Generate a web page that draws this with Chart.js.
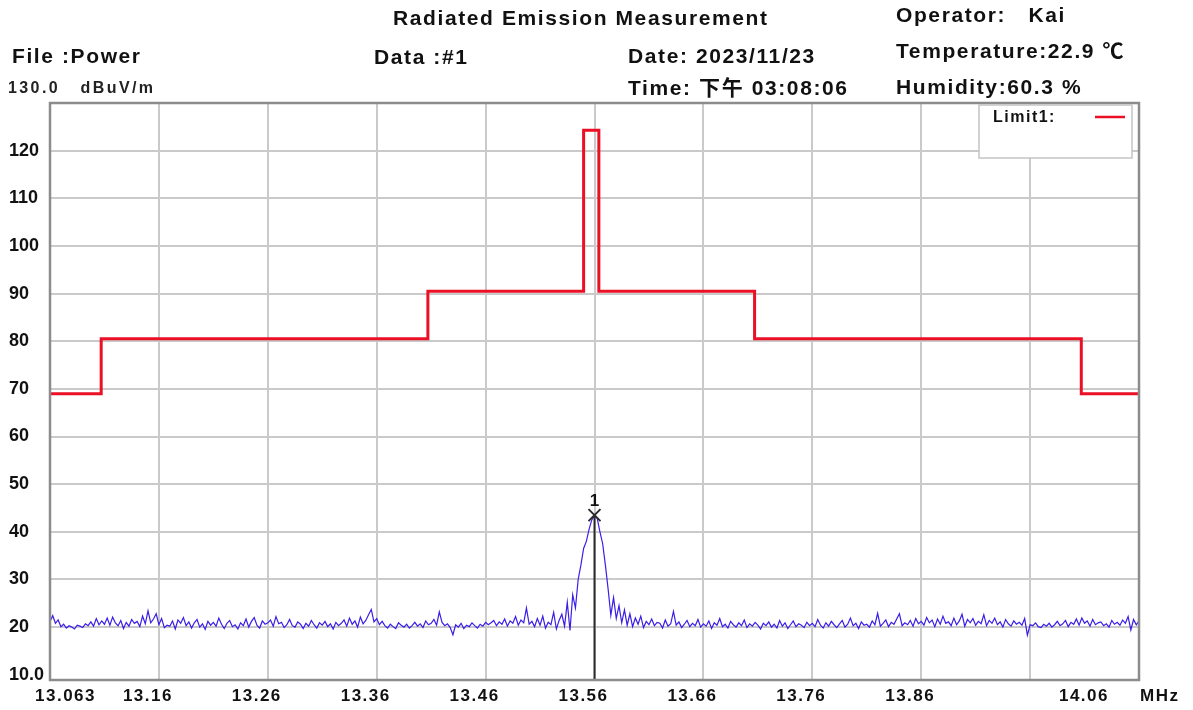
<!DOCTYPE html>
<html>
<head>
<meta charset="utf-8">
<script src="https://cdn.jsdelivr.net/npm/chart.js@4.4.1/dist/chart.umd.min.js"></script>
<style>
  body { margin: 0; background: #fff; font-family: "Liberation Sans", Arial, "Noto Sans CJK SC", sans-serif; }
  #wrap { position: relative; width: 1193px; height: 710px; }
  canvas { position: absolute; left: 0; top: 0; }
  .t { position: absolute; white-space: pre; font-weight: bold; font-size: 21px; line-height: 21px; letter-spacing: 1.6px; color: #111; }
  .s { font-size: 16px; line-height: 16px; letter-spacing: 2.4px; color: #222; }
</style>
</head>
<body>
<div id="wrap">
  <canvas id="spectrum" width="1193" height="710"></canvas>
  <div class="t" style="left:393px;top:7px">Radiated Emission Measurement</div>
  <div class="t" style="left:896px;top:4px">Operator:   Kai</div>
  <div class="t" style="left:12px;top:45px">File :Power</div>
  <div class="t" style="left:374px;top:46px">Data :#1</div>
  <div class="t" style="left:628px;top:45px">Date: 2023/11/23</div>
  <div class="t" style="left:896px;top:40px">Temperature:22.9 ℃</div>
  <div class="t s" style="left:8px;top:80px">130.0   dBuV/m</div>
  <div class="t" style="left:628px;top:77px">Time: 下午 03:08:06</div>
  <div class="t" style="left:896px;top:76px">Humidity:60.3 %</div>
</div>
<script>
// sweep settings (MHz)
const sweepStart = 13.063;
const sweepStop = 14.063;

// grid ticks and their printed labels
const xTicks = [13.063, 13.163, 13.263, 13.363, 13.463, 13.563, 13.663, 13.763, 13.863, 13.963, 14.063];
const xTickLabels = ["13.063", "13.16", "13.26", "13.36", "13.46", "13.56", "13.66", "13.76", "13.86", "", "14.06"];
const yTicks = [10, 20, 30, 40, 50, 60, 70, 80, 90, 100, 110, 120];
const yTickLabels = ["10.0", "20", "30", "40", "50", "60", "70", "80", "90", "100", "110", "120"];

// Limit1 corners
const limitFreq = [13.063, 13.11, 13.11, 13.41, 13.41, 13.553, 13.553, 13.567, 13.567, 13.71, 13.71, 14.01, 14.01, 14.063];
const limitLevel = [69.0, 69.0, 80.5, 80.5, 90.5, 90.5, 124.3, 124.3, 90.5, 90.5, 80.5, 80.5, 69.0, 69.0];

const trace = [
  21.2, 22.4, 20.8, 21.5, 20.1, 20.6, 19.8, 20.3, 20.0, 19.6, 20.4, 20.2, 19.9, 20.7, 20.3, 21.1, 20.2, 21.8, 20.5, 21.3,
  20.6, 21.9, 20.4, 22.1, 20.9, 20.3, 21.4, 19.7, 21.0, 20.2, 21.6, 20.8, 21.2, 20.1, 22.3, 20.7, 23.4, 20.9, 21.7, 22.8,
  20.5, 21.8, 19.9, 20.4, 20.2, 21.3, 19.6, 21.5, 20.8, 22.0, 20.3, 21.1, 19.8, 20.9, 21.6, 20.0, 20.7, 19.5, 21.2, 20.4,
  21.0, 20.2, 21.9, 20.6, 19.7, 20.8, 21.4, 20.1, 20.5, 19.6, 20.9, 20.3, 21.7, 20.0, 21.2, 22.0, 20.4, 19.8, 21.3, 20.6,
  20.9, 21.5, 20.2, 22.2, 20.7, 21.0, 19.9, 20.5, 21.6, 20.3, 20.0, 21.1, 20.6, 19.7, 20.8, 20.2, 21.4, 20.5, 19.8, 20.9,
  20.4, 21.2, 20.1, 20.7, 19.6, 21.0, 20.3, 20.8, 21.5, 20.2, 21.9, 20.6, 21.3, 20.0, 22.1, 20.7, 21.4, 22.6, 23.7, 21.1,
  21.8, 20.5, 21.2, 20.3, 19.8, 20.6, 20.1, 19.7, 20.9, 20.4, 20.0, 20.6, 19.8, 20.3, 21.0, 20.2, 20.7, 19.9, 21.3, 20.5,
  20.8, 21.6, 20.4, 23.2, 21.0, 20.3, 20.7, 19.9, 18.4, 20.5, 20.0, 20.8, 19.7, 20.4, 20.1, 20.9, 20.3, 19.8, 20.6, 20.2,
  21.0, 20.5, 20.9, 21.4, 20.3, 21.1, 20.6, 21.7, 20.2, 21.3, 20.8, 22.2, 20.4, 21.5, 20.9, 24.0, 20.6, 21.2, 20.1, 21.8,
  20.4, 22.3, 19.8, 21.0, 20.5, 23.1, 19.6, 21.4, 22.7, 20.2, 25.2, 19.3, 26.8, 24.0, 30.0, 33.0, 36.5, 38.0, 40.5, 42.5,
  43.5,
  42.8, 40.0, 37.5, 33.0, 28.0, 22.5, 26.2, 21.8, 24.5, 20.9, 23.6, 20.4, 22.8, 20.1, 21.9, 20.6, 22.3, 19.9, 21.2, 20.5,
  21.7, 20.3, 21.0, 20.8, 19.8, 21.5, 20.2, 20.7, 23.3, 20.4, 21.1, 19.9, 20.6, 21.4, 20.1, 20.8, 20.3, 21.6, 20.0, 20.7,
  20.2, 21.3, 19.7, 20.9, 20.4, 21.8, 20.1, 20.6, 19.8, 21.2, 20.5, 20.0, 20.9, 20.3, 21.5, 19.9, 20.7, 20.2, 21.0, 20.4,
  19.6, 20.8, 20.3, 21.1, 20.0, 20.6, 19.8, 21.4, 20.2, 20.9, 19.7, 20.5, 21.3, 20.1, 20.7, 20.4, 19.9, 21.0, 20.3, 20.8,
  20.1, 21.6, 20.4, 19.8, 20.9, 20.2, 21.2, 20.5, 19.9, 20.7, 21.4, 20.0, 20.6, 21.9, 20.3, 20.8, 19.7, 21.1, 20.4, 20.6,
  20.0, 21.3, 20.5, 22.9, 20.2, 20.8, 21.5, 20.1, 21.0, 20.6, 21.7, 22.8, 20.3, 20.9, 20.5, 21.4, 20.2, 21.8, 20.7, 21.2,
  20.4, 22.0, 20.9, 21.5, 20.1, 21.7, 20.6, 22.3, 20.8, 21.1, 20.3, 21.9, 20.5, 21.3, 22.7, 20.2, 21.6, 20.9, 21.8, 20.4,
  21.2, 20.7, 22.6, 20.3, 21.4, 20.8, 21.9, 20.5, 21.1, 20.0, 21.6, 20.7, 20.2, 21.3, 20.6, 21.0, 20.4, 21.8, 18.3, 20.5,
  20.3, 20.9, 20.1, 19.9, 20.6, 20.2, 20.8, 20.0, 20.5, 21.2, 20.3, 20.7, 21.4, 20.1, 21.0, 20.6, 21.7, 20.4, 21.9, 20.8,
  21.3, 20.2, 21.6, 20.5, 20.9, 21.1, 20.3, 20.7, 20.0, 21.4, 20.6, 21.0, 20.4, 21.5, 20.8, 22.2, 19.4, 21.6, 20.5, 21.3
];

const step = (sweepStop - sweepStart) / (trace.length - 1);
const tracePts = trace.map((v, i) => ({ x: sweepStart + i * step, y: v }));
const limitPts = limitFreq.map((f, i) => ({ x: f, y: limitLevel[i] }));

const FONT = '"Liberation Sans", Arial, sans-serif';

const overlay = {
  id: "overlay",
  afterDraw(chart) {
    const { ctx, chartArea: a, scales } = chart;
    const x = scales.x, y = scales.y;
    ctx.save();

    // marker 1 at the peak
    let pk = 0;
    trace.forEach((v, i) => { if (v > trace[pk]) pk = i; });
    const mx = x.getPixelForValue(tracePts[pk].x);
    const my = y.getPixelForValue(trace[pk]);
    ctx.strokeStyle = "#2b2b2b";
    ctx.lineWidth = 2;
    ctx.beginPath();
    ctx.moveTo(mx, my);
    ctx.lineTo(mx, a.bottom);
    ctx.moveTo(mx - 6, my - 6); ctx.lineTo(mx + 6, my + 6);
    ctx.moveTo(mx + 6, my - 6); ctx.lineTo(mx - 6, my + 6);
    ctx.stroke();
    ctx.fillStyle = "#111";
    ctx.font = "bold 17px " + FONT;
    ctx.textAlign = "center";
    ctx.textBaseline = "middle";
    ctx.fillText("1", mx, my - 14);

    // frame
    ctx.strokeStyle = "#8c8c8c";
    ctx.lineWidth = 2.5;
    ctx.strokeRect(a.left, a.top, a.right - a.left, a.bottom - a.top);

    // x labels
    ctx.letterSpacing = "1.5px";
    const ly = a.bottom + 16;
    xTicks.forEach((v, i) => {
      const px = x.getPixelForValue(v);
      const t = xTickLabels[i];
      if (!t) return;
      if (i === 0) { ctx.textAlign = "left"; ctx.fillText(t, px - 15, ly); }
      else if (i === xTicks.length - 1) { ctx.textAlign = "right"; ctx.fillText(t, px - 30, ly); }
      else { ctx.textAlign = "center"; ctx.fillText(t, px - 11, ly); }
    });
    ctx.textAlign = "left";
    ctx.fillText("MHz", a.right + 1, ly);

    // legend box
    const bx = a.right - 160, by = a.top + 2, bw = 153, bh = 53;
    ctx.fillStyle = "#fff";
    ctx.fillRect(bx, by, bw, bh);
    ctx.strokeStyle = "#c4c4c4";
    ctx.lineWidth = 1.5;
    ctx.strokeRect(bx, by, bw, bh);
    ctx.fillStyle = "#111";
    ctx.font = "bold 16px " + FONT;
    ctx.fillText(chart.data.datasets[1].label + ":", bx + 14, by + 13);
    ctx.strokeStyle = chart.data.datasets[1].borderColor;
    ctx.lineWidth = 2.5;
    ctx.beginPath();
    ctx.moveTo(bx + 116, by + 12);
    ctx.lineTo(bx + 146, by + 12);
    ctx.stroke();
    ctx.restore();
  }
};

new Chart("spectrum", {
  type: "line",
  data: {
    datasets: [
      {
        label: "Trace",
        data: tracePts,
        borderColor: "#3a1ee8",
        borderWidth: 1.2,
        pointRadius: 0,
        tension: 0,
      },
      {
        label: "Limit1",
        data: limitPts,
        borderColor: "#ec1026",
        borderWidth: 3,
        pointRadius: 0,
        tension: 0,
      },
    ],
  },
  options: {
    responsive: false,
    animation: false,
    devicePixelRatio: 1,
    layout: { padding: { top: 103, right: 54, bottom: 0, left: 9 } },
    plugins: { legend: { display: false }, tooltip: { enabled: false } },
    scales: {
      x: {
        type: "linear",
        min: sweepStart,
        max: sweepStop,
        afterBuildTicks: (s) => { s.ticks = xTicks.map((v) => ({ value: v })); },
        afterFit: (s) => { s.height = 30; },
        ticks: { display: false },
        grid: { color: "#cacaca", lineWidth: 2, drawTicks: false },
        border: { display: false },
      },
      y: {
        min: 8.9,
        max: 130,
        afterBuildTicks: (s) => { s.ticks = yTicks.map((v) => ({ value: v })); },
        afterFit: (s) => { s.width = 41; },
        ticks: {
          crossAlign: "far",
          padding: 0,
          color: "#111",
          font: { family: FONT, size: 18, weight: "bold" },
          callback: (v) => yTickLabels[yTicks.indexOf(v)],
        },
        grid: {
          color: (c) => (c.tick && c.tick.value === 10 ? "rgba(0,0,0,0)" : "#cacaca"),
          lineWidth: 2,
          drawTicks: false,
        },
        border: { display: false },
      },
    },
  },
  plugins: [overlay],
});
</script>
</body>
</html>
